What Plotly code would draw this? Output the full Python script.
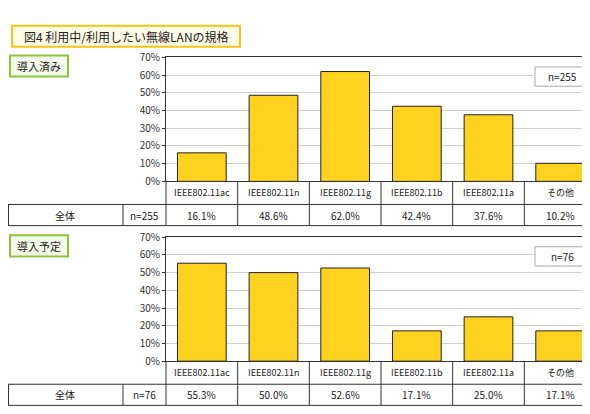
import plotly.graph_objects as go

W, H = 590, 414
categories = ["IEEE802.11ac", "IEEE802.11n", "IEEE802.11g", "IEEE802.11b", "IEEE802.11a", "その他"]
done_vals = [16.1, 48.6, 62.0, 42.4, 37.6, 10.2]
plan_vals = [55.3, 50.0, 52.6, 17.1, 25.0, 17.1]
done_n = "n=255"
plan_n = "n=76"

FONT = "Noto Sans CJK JP"
X0, X1 = 158, 588

def px(x):
    return x / W

def py(y):
    return 1 - y / H

def note(x, y, text, size=10):
    return dict(x=px(x), y=py(y), xref="paper", yref="paper", text=text, showarrow=False,
                xanchor="center", yanchor="middle", font=dict(size=size, family=FONT, color="#222"))

fig = go.Figure()
shapes = []
annos = []

panels = [
    (done_vals, done_n, "導入済み", 42, 171, ""),
    (plan_vals, plan_n, "導入予定", 229, 358, "2"),
]

for vals, n, label, top, bot, ax in panels:
    fig.add_trace(go.Bar(
        x=categories, y=vals, marker=dict(color="#FFD21F", line=dict(color="#222", width=1)),
        width=0.68, xaxis="x" + ax, yaxis="y" + ax, showlegend=False, hoverinfo="skip",
    ))
    fig.layout["xaxis" + ax] = dict(domain=[px(X0), px(X1)], anchor="y" + ax, showticklabels=False,
                                    showline=True, linecolor="#333", mirror=True, ticks="",
                                    range=[-0.5, 5.5], fixedrange=True)
    fig.layout["yaxis" + ax] = dict(domain=[py(bot), py(top)], anchor="x" + ax, range=[0, 70], dtick=10,
                                    ticksuffix="%", showline=True, linecolor="#333", mirror=True,
                                    gridcolor="#d0d0d0", tickfont=dict(size=10, color="#333", family=FONT),
                                    ticks="outside", ticklen=3, tickcolor="#333", zeroline=False)
    d = top - 42
    shapes.append(dict(type="rect", xref="paper", yref="paper", x0=px(2), x1=px(60), y0=py(62 + d), y1=py(40 + d),
                       line=dict(color="#8cc63f", width=2), fillcolor="#f4fbe8"))
    annos.append(note(31, 51 + d, label, 11))
    shapes.append(dict(type="rect", xref="paper", yref="paper", x0=px(527), x1=px(582), y0=py(top + 30), y1=py(top + 10),
                       line=dict(color="#aaa", width=1), fillcolor="white"))
    annos.append(note(554, top + 20, n))
    r0, r1, r2 = bot, bot + 24, bot + 46
    col = [X0 + i * (X1 - X0) / 6 for i in range(7)]
    for y in (r1, r2):
        shapes.append(dict(type="line", xref="paper", yref="paper", x0=0, x1=px(X1), y0=py(y), y1=py(y), line=dict(color="#333", width=1)))
    for c in col:
        shapes.append(dict(type="line", xref="paper", yref="paper", x0=px(c), x1=px(c), y0=py(r0), y1=py(r2), line=dict(color="#333", width=1)))
    for x in (0.5, 115):
        shapes.append(dict(type="line", xref="paper", yref="paper", x0=px(x), x1=px(x), y0=py(r1), y1=py(r2), line=dict(color="#333", width=1)))
    for i, (c, v) in enumerate(zip(categories, vals)):
        cx = (col[i] + col[i + 1]) / 2
        annos.append(note(cx, (r0 + r1) / 2, c, 9))
        annos.append(note(cx, (r1 + r2) / 2, f"{v:.1f}%"))
    annos.append(note(57, (r1 + r2) / 2, "全体"))
    annos.append(note(136, (r1 + r2) / 2, n))

shapes.append(dict(type="rect", xref="paper", yref="paper", x0=px(4), x1=px(232), y0=py(31), y1=py(9),
                   line=dict(color="#f5c518", width=2), fillcolor="#fffbe6"))
annos.append(note(118, 20, "図4 利用中/利用したい無線LANの規格", 12))

fig.update_layout(width=W, height=H, margin=dict(l=0, r=0, t=0, b=0), plot_bgcolor="white",
                  paper_bgcolor="white", shapes=shapes, annotations=annos, bargap=0.3)
fig.write_html("out.html")
